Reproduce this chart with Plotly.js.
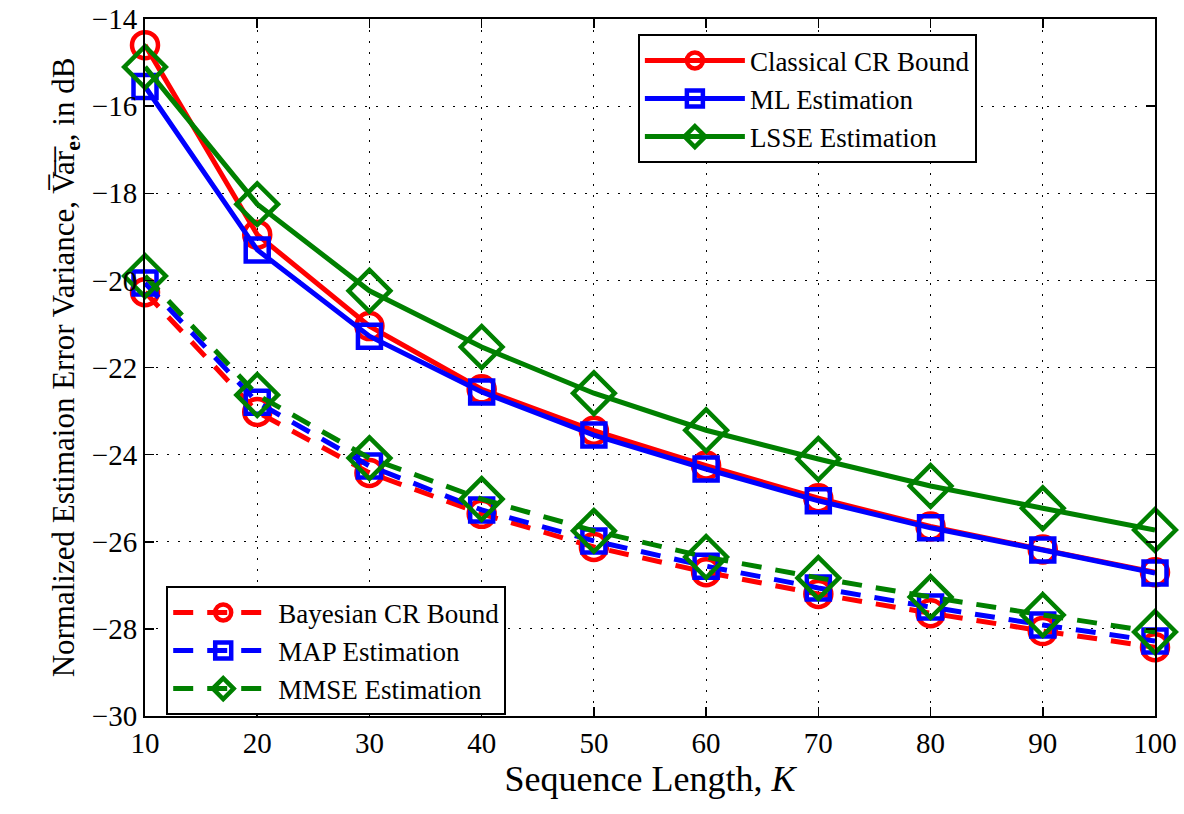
<!DOCTYPE html>
<html><head><meta charset="utf-8">
<script src="https://cdn.plot.ly/plotly-3.0.1.min.js"></script>
<style>body{margin:0;background:#fff}#c{width:1184px;height:814px}</style>
</head><body><div id="c"></div>
<script>
const K = [10,20,30,40,50,60,70,80,90,100];
const classicalCR = [-14.6,-18.95,-21.05,-22.5,-23.45,-24.25,-25.0,-25.65,-26.18,-26.7];
const mlEst = [-15.55,-19.3,-21.28,-22.56,-23.55,-24.33,-25.06,-25.68,-26.19,-26.72];
const lsseEst = [-15.1,-18.25,-20.24,-21.53,-22.59,-23.44,-24.1,-24.72,-25.23,-25.73];
const bayesCR = [-20.27,-23.02,-24.42,-25.36,-26.12,-26.7,-27.2,-27.64,-28.05,-28.42];
const mapEst = [-20.06,-22.8,-24.26,-25.27,-25.98,-26.56,-27.06,-27.5,-27.91,-28.28];
const mmseEst = [-19.9,-22.63,-24.08,-25.02,-25.75,-26.35,-26.83,-27.27,-27.68,-28.07];
const names = ['Classical CR Bound','ML Estimation','LSSE Estimation','Bayesian CR Bound','MAP Estimation','MMSE Estimation'];
const xTicks = [10,20,30,40,50,60,70,80,90,100];
const yTicks = [-30,-28,-26,-24,-22,-20,-18,-16,-14];

const RED='#ff0000', BLUE='#0000ff', GREEN='#008000';
function tr(y,name,color,sym,size,dash,legend){
  return {x:K,y:y,name:name,type:'scatter',mode:'lines+markers',legend:legend,cliponaxis:false,
    line:{color:color,width:5,dash:dash},
    marker:{symbol:sym,size:size,color:color,line:{color:color,width:4.5}}};
}
const data = [
  tr(bayesCR,names[3],RED,'circle-open',26,'20px,14px','legend2'),
  tr(mapEst,names[4],BLUE,'square-open',23,'20px,14px','legend2'),
  tr(mmseEst,names[5],GREEN,'diamond-open',32,'20px,14px','legend2'),
  tr(classicalCR,names[0],RED,'circle-open',26,'solid','legend'),
  tr(mlEst,names[1],BLUE,'square-open',23,'solid','legend'),
  tr(lsseEst,names[2],GREEN,'diamond-open',32,'solid','legend')
];
const F = 'Liberation Serif, DejaVu Serif, serif';
const ax = {showline:true,linecolor:'#000',linewidth:2,mirror:'ticks',ticks:'inside',ticklen:9,tickwidth:1.5,tickcolor:'#000',
  showgrid:true,gridcolor:'#000',gridwidth:1,griddash:'2px,9px',zeroline:false,tickfont:{family:F,size:29,color:'#000'}};
const legFont = {family:F,size:27};
const layout = {
  width:1184,height:814,paper_bgcolor:'#fff',plot_bgcolor:'#fff',
  margin:{l:145,r:29,t:19,b:98},
  font:{family:F,color:'#000'},
  xaxis:Object.assign({},ax,{range:[10,100],tickvals:xTicks,ticktext:xTicks.map(String),
    title:{text:'Sequence Length, <i>K</i>',font:{family:F,size:36},standoff:6}}),
  yaxis:Object.assign({},ax,{range:[-30,-14],tickvals:yTicks,ticktext:yTicks.map(v=>'\u2212'+Math.abs(v)),
    title:{text:'Normalized Estimaion Error Variance, V\u0305a\u0305r\u0305<sub><b>e</b></sub>, in dB',font:{family:F,size:31},standoff:8}}),
  legend:{x:0.488,y:0.978,xanchor:'left',yanchor:'top',bgcolor:'#fff',bordercolor:'#000',borderwidth:2,
    font:legFont,traceorder:'normal',itemwidth:100,tracegroupgap:0},
  legend2:{x:0.021,y:0.186,xanchor:'left',yanchor:'top',bgcolor:'#fff',bordercolor:'#000',borderwidth:2,
    font:legFont,traceorder:'normal',itemwidth:100,tracegroupgap:0},
  showlegend:true
};
Plotly.newPlot('c',data,layout,{displayModeBar:false,staticPlot:true});
</script></body></html>
